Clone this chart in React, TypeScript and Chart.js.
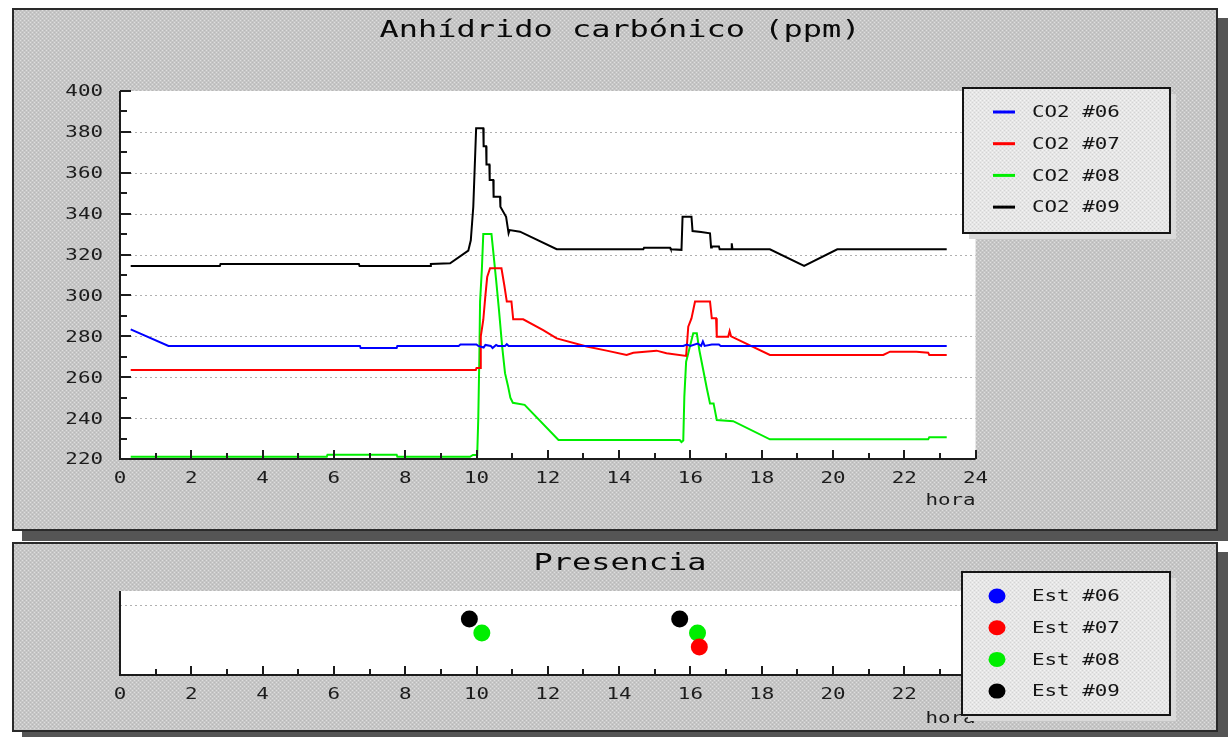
import React, { useEffect, useRef } from 'react';
import { Chart, registerables } from 'chart.js';

Chart.register(...registerables);

// ---------- data ----------
const HOUR_MIN = 0;
const HOUR_MAX = 24;
const HOUR_STEP = 2;
const CO2_MIN = 220;
const CO2_MAX = 400;
const CO2_STEP = 20;
const CO2_GRID = [240, 260, 280, 300, 320, 340, 360, 380];
const CO2_MAJOR = [240, 260, 280, 300, 320, 340, 360, 380, 400];
const CO2_MINOR = [230, 250, 270, 290, 310, 330, 350, 370, 390];
const HOUR_MAJOR = [0, 2, 4, 6, 8, 10, 12, 14, 16, 18, 20, 22, 24];
const HOUR_MINOR = [1, 3, 5, 7, 9, 11, 13, 15, 17, 19, 21, 23];

const CO2_LABELS = ['CO2 #06', 'CO2 #07', 'CO2 #08', 'CO2 #09'];

const CO2_06_HOURS = [0.3, 1.36, 6.73, 6.75, 7.76, 7.78, 9.5, 9.55, 10.0, 10.05, 10.2, 10.25, 10.4, 10.45, 10.55, 10.6, 10.8, 10.85, 10.9, 15.8, 15.9, 16.0, 16.2, 16.3, 16.35, 16.4, 16.6, 16.8, 16.85, 23.19];
const CO2_06_VALUES = [283.4, 275.3, 275.3, 274.3, 274.3, 275.3, 275.3, 276, 276, 275.3, 274.5, 275.8, 275.3, 274.3, 275.8, 275.3, 275.3, 276.2, 275.3, 275.3, 276, 275.3, 276.5, 275.3, 277.5, 275.3, 276, 276, 275.3, 275.3];

const CO2_07_HOURS = [0.3, 9.98, 10.0, 10.1, 10.12, 10.19, 10.25, 10.3, 10.38, 10.7, 10.78, 10.85, 10.98, 11.03, 11.31, 11.87, 12.25, 13.09, 13.65, 14.21, 14.4, 15.05, 15.33, 15.88, 15.94, 16.03, 16.13, 16.55, 16.6, 16.72, 16.74, 17.06, 17.1, 17.14, 18.23, 21.41, 21.6, 22.34, 22.67, 22.7, 23.19];
const CO2_07_VALUES = [263.5, 263.5, 264.5, 264.5, 280, 288, 300, 309, 313.3, 313.3, 305, 297, 297, 288.3, 288.3, 283, 279, 275, 273, 270.9, 272, 273, 271.7, 270.4, 284.7, 288.8, 297, 297, 288.8, 288.8, 279.8, 279.8, 282.5, 280, 270.9, 270.9, 272.5, 272.5, 272, 270.9, 270.9];

const CO2_08_HOURS = [0.3, 5.8, 5.82, 7.76, 7.78, 9.82, 9.9, 10.02, 10.05, 10.08, 10.1, 10.15, 10.19, 10.42, 10.47, 10.55, 10.63, 10.72, 10.8, 10.88, 10.95, 11.02, 11.35, 12.3, 15.7, 15.75, 15.8, 15.83, 15.88, 15.94, 16.0, 16.08, 16.18, 16.25, 16.36, 16.46, 16.55, 16.65, 16.74, 17.2, 18.23, 22.67, 22.7, 23.19];
const CO2_08_VALUES = [221.1, 221.1, 222.1, 222.1, 221.1, 221.1, 222, 222, 240, 270, 297, 312.5, 330, 330, 321.4, 307.6, 292.9, 275, 262, 256, 250, 247.5, 246.5, 229.3, 229.3, 228.3, 229, 250.5, 267.6, 271.7, 276, 281.5, 281.5, 273.3, 263.5, 254.6, 247.2, 247.2, 239.1, 238.5, 229.6, 229.6, 230.6, 230.6];

const CO2_09_HOURS = [0.3, 2.8, 2.82, 6.7, 6.72, 8.7, 8.72, 9.26, 9.77, 9.84, 9.91, 9.99, 10.19, 10.2, 10.27, 10.28, 10.36, 10.37, 10.47, 10.48, 10.66, 10.67, 10.83, 10.9, 10.93, 11.22, 12.25, 14.68, 14.7, 15.43, 15.45, 15.75, 15.78, 16.03, 16.06, 16.3, 16.55, 16.58, 16.6, 16.8, 16.82, 17.15, 17.16, 17.18, 18.23, 19.19, 20.12, 23.19];
const CO2_09_VALUES = [314.4, 314.4, 315.4, 315.4, 314.4, 314.4, 315.4, 315.7, 321.9, 327, 343.4, 381.8, 381.8, 373, 373, 364, 364, 356.5, 356.5, 348.3, 348.3, 343.4, 338.5, 330.4, 332, 331.2, 322.6, 322.6, 323.3, 323.3, 322.6, 322.3, 338.5, 338.5, 331.5, 331, 330.4, 323.5, 324, 324, 322.6, 322.6, 325.5, 322.6, 322.6, 314.4, 322.6, 322.6];

const PRES_LABELS = ['Est #06', 'Est #07', 'Est #08', 'Est #09'];
const PRES_06_HOURS: number[] = [];
const PRES_06_LEVELS: number[] = [];
const PRES_07_HOURS = [16.25];
const PRES_07_LEVELS = [2];
const PRES_08_HOURS = [10.15, 16.2];
const PRES_08_LEVELS = [3, 3];
const PRES_09_HOURS = [9.8, 15.7];
const PRES_09_LEVELS = [4, 4];
const PRES_MIN = 0;
const PRES_MAX = 6;
const PRES_GRID = [5];

const SERIES_COLORS = ['#0000ff', '#ff0000', '#00ee00', '#000000'];

// ---------- helpers ----------
const FONT = '"DejaVu Sans Mono", "Liberation Mono", monospace';
const TEXT_STRETCH = 1.39;
const TEXT_DY = 1.5;
const zip = (xs: number[], ys: number[]) => xs.map((x, i) => ({ x, y: ys[i] }));

let panelPat: CanvasPattern | null = null;
let legendPat: CanvasPattern | null = null;
function makePattern(ctx: CanvasRenderingContext2D, base: string, dot: string, dark: string) {
  const c = document.createElement('canvas');
  c.width = 4;
  c.height = 4;
  const g = c.getContext('2d')!;
  g.fillStyle = base;
  g.fillRect(0, 0, 4, 4);
  g.fillStyle = dot;
  g.fillRect(0, 0, 1, 1);
  g.fillRect(2, 2, 1, 1);
  g.fillStyle = dark;
  g.fillRect(2, 0, 1, 1);
  g.fillRect(0, 2, 1, 1);
  return ctx.createPattern(c, 'repeat')!;
}

// widen glyphs horizontally around the text anchor (the reference uses a wide pixel font)
function stretchText(ctx: any) {
  if (ctx.__stretched) return;
  const orig = CanvasRenderingContext2D.prototype.fillText;
  ctx.fillText = function (text: string, x: number, y: number, maxWidth?: number) {
    this.save();
    this.translate(x, y + TEXT_DY);
    this.scale(TEXT_STRETCH, 1);
    if (typeof maxWidth === 'number' && isFinite(maxWidth)) orig.call(this, text, 0, 0, maxWidth / TEXT_STRETCH);
    else orig.call(this, text, 0, 0);
    this.restore();
  };
  ctx.__stretched = true;
}

const axesPlugin = {
  id: 'manualAxes',
  beforeDraw(chart: any) {
    const ctx = chart.ctx as CanvasRenderingContext2D;
    stretchText(ctx);
    if (!panelPat) panelPat = makePattern(ctx, '#c6c6c6', '#dedede', '#b8b8b8');
    ctx.save();
    ctx.fillStyle = panelPat;
    ctx.fillRect(0, 0, chart.width, chart.height);
    const a = chart.chartArea;
    ctx.fillStyle = '#ffffff';
    ctx.fillRect(a.left, a.top, a.right - a.left, a.bottom - a.top);
    ctx.restore();
  },
  beforeDatasetsDraw(chart: any, _args: any, opts: any) {
    const ctx = chart.ctx as CanvasRenderingContext2D;
    const a = chart.chartArea;
    const y = chart.scales.y;
    ctx.save();
    ctx.strokeStyle = '#b0b0b0';
    ctx.lineWidth = 1;
    ctx.setLineDash([2, 3]);
    for (const v of opts.grid || []) {
      const py = Math.round(y.getPixelForValue(v)) + 0.5;
      ctx.beginPath();
      ctx.moveTo(a.left, py);
      ctx.lineTo(a.right, py);
      ctx.stroke();
    }
    ctx.restore();
  },
  afterDatasetsDraw(chart: any, _args: any, opts: any) {
    const ctx = chart.ctx as CanvasRenderingContext2D;
    const a = chart.chartArea;
    const xs = chart.scales.x;
    const ys = chart.scales.y;
    ctx.save();
    ctx.strokeStyle = '#1c1c1c';
    ctx.lineWidth = 2;
    ctx.beginPath();
    ctx.moveTo(a.left, a.top);
    ctx.lineTo(a.left, a.bottom);
    ctx.lineTo(a.right, a.bottom);
    ctx.stroke();
    const tick = (x1: number, y1: number, x2: number, y2: number) => {
      ctx.beginPath();
      ctx.moveTo(x1, y1);
      ctx.lineTo(x2, y2);
      ctx.stroke();
    };
    for (const h of opts.xMajor || []) {
      const px = Math.round(xs.getPixelForValue(h));
      tick(px, a.bottom, px, a.bottom - 9);
    }
    for (const h of opts.xMinor || []) {
      const px = Math.round(xs.getPixelForValue(h));
      tick(px, a.bottom, px, a.bottom - 6);
    }
    for (const v of opts.yMajor || []) {
      const py = Math.round(ys.getPixelForValue(v));
      tick(a.left, py, a.left + 11, py);
    }
    for (const v of opts.yMinor || []) {
      const py = Math.round(ys.getPixelForValue(v));
      tick(a.left, py, a.left + 7, py);
    }
    ctx.restore();
  },
};

const boxLegendPlugin = {
  id: 'boxLegend',
  afterDraw(chart: any, _args: any, opts: any) {
    const ctx = chart.ctx as CanvasRenderingContext2D;
    if (!legendPat) legendPat = makePattern(ctx, '#e6e6e6', '#f4f4f4', '#d4d4d4');
    const { left, top, width, height, rowStart, rowGap, markerX, textX, marker } = opts;
    ctx.save();
    ctx.fillStyle = '#d9d9d9';
    ctx.fillRect(left + 6, top + 6, width, height);
    ctx.fillStyle = legendPat;
    ctx.fillRect(left, top, width, height);
    ctx.lineWidth = 2;
    ctx.strokeStyle = '#151515';
    ctx.strokeRect(left, top, width, height);
    chart.data.datasets.forEach((ds: any, i: number) => {
      const y = rowStart + i * rowGap;
      if (marker === 'line') {
        ctx.strokeStyle = ds.borderColor;
        ctx.lineWidth = 3;
        ctx.beginPath();
        ctx.moveTo(markerX - 11, y);
        ctx.lineTo(markerX + 11, y);
        ctx.stroke();
      } else {
        ctx.fillStyle = ds.backgroundColor;
        ctx.beginPath();
        ctx.ellipse(markerX, y, 8.5, 7.5, 0, 0, Math.PI * 2);
        ctx.fill();
      }
      ctx.fillStyle = '#151515';
      ctx.font = `15px ${FONT}`;
      ctx.textAlign = 'left';
      ctx.textBaseline = 'middle';
      ctx.fillText(ds.label, textX, y);
    });
    ctx.restore();
  },
};

const tickFont = { family: FONT, size: 15 };
const titleFont = { family: FONT, size: 23, weight: 'normal' };
const LEFT_PAD = 10;

function co2Config(): any {
  const series = [
    [CO2_06_HOURS, CO2_06_VALUES],
    [CO2_07_HOURS, CO2_07_VALUES],
    [CO2_08_HOURS, CO2_08_VALUES],
    [CO2_09_HOURS, CO2_09_VALUES],
  ];
  return {
    type: 'line',
    data: {
      datasets: series.map(([h, v], i) => ({
        label: CO2_LABELS[i],
        data: zip(h, v),
        borderColor: SERIES_COLORS[i],
        backgroundColor: SERIES_COLORS[i],
        borderWidth: 2,
        pointRadius: 0,
        tension: 0,
        fill: false,
      })),
    },
    options: {
      responsive: false,
      animation: false,
      events: [],
      layout: { padding: { left: LEFT_PAD, right: 0, top: 0, bottom: 0 } },
      plugins: {
        legend: { display: false },
        tooltip: { enabled: false },
        title: {
          display: true,
          text: 'Anhídrido carbónico (ppm)',
          color: '#0a0a0a',
          font: titleFont,
          padding: { top: 5.5, bottom: 47.9 },
        },
        manualAxes: { grid: CO2_GRID, xMajor: HOUR_MAJOR, xMinor: HOUR_MINOR, yMajor: CO2_MAJOR, yMinor: CO2_MINOR },
        boxLegend: { left: 949, top: 78, width: 207, height: 145, rowStart: 102, rowGap: 31.7, markerX: 990, textX: 1018, marker: 'line' },
      },
      scales: {
        x: {
          type: 'linear',
          min: HOUR_MIN,
          max: HOUR_MAX,
          afterFit: (s: any) => { s.height = 70; },
          grid: { display: false },
          border: { display: false },
          ticks: { stepSize: HOUR_STEP, padding: 2, color: '#1c1c1c', font: tickFont, maxRotation: 0, autoSkip: false },
          title: { display: true, text: 'hora', align: 'end', color: '#1c1c1c', font: tickFont, padding: { top: 0, bottom: 20 } },
        },
        y: {
          min: CO2_MIN,
          max: CO2_MAX,
          afterFit: (s: any) => { s.width = 106 - LEFT_PAD; },
          grid: { display: false },
          border: { display: false },
          ticks: { stepSize: CO2_STEP, padding: 9, color: '#1c1c1c', font: tickFont },
        },
        yRight: {
          type: 'linear',
          position: 'right',
          afterFit: (s: any) => { s.width = 240.4; },
          grid: { display: false },
          border: { display: false },
          ticks: { display: false },
        },
      },
    },
    plugins: [axesPlugin, boxLegendPlugin],
  };
}

function presConfig(): any {
  const series = [
    [PRES_06_HOURS, PRES_06_LEVELS],
    [PRES_07_HOURS, PRES_07_LEVELS],
    [PRES_08_HOURS, PRES_08_LEVELS],
    [PRES_09_HOURS, PRES_09_LEVELS],
  ];
  return {
    type: 'scatter',
    data: {
      datasets: series.map(([h, v], i) => ({
        label: PRES_LABELS[i],
        data: zip(h, v),
        borderColor: SERIES_COLORS[i],
        backgroundColor: SERIES_COLORS[i],
        borderWidth: 0,
        pointRadius: 8.5,
        pointStyle: 'circle',
      })),
    },
    options: {
      responsive: false,
      animation: false,
      events: [],
      layout: { padding: { left: LEFT_PAD, right: 0, top: 0, bottom: 0 } },
      plugins: {
        legend: { display: false },
        tooltip: { enabled: false },
        title: {
          display: true,
          text: 'Presencia',
          color: '#0a0a0a',
          font: titleFont,
          padding: { top: 4.5, bottom: 14.9 },
        },
        manualAxes: { grid: PRES_GRID, xMajor: HOUR_MAJOR, xMinor: HOUR_MINOR, yMajor: [], yMinor: [] },
        boxLegend: { left: 948, top: 28, width: 208, height: 143, rowStart: 52, rowGap: 31.7, markerX: 983, textX: 1018, marker: 'point' },
      },
      scales: {
        x: {
          type: 'linear',
          min: HOUR_MIN,
          max: HOUR_MAX,
          afterFit: (s: any) => { s.height = 55; },
          grid: { display: false },
          border: { display: false },
          ticks: { stepSize: HOUR_STEP, padding: 2, color: '#1c1c1c', font: tickFont, maxRotation: 0, autoSkip: false },
          title: { display: true, text: 'hora', align: 'end', color: '#1c1c1c', font: tickFont, padding: { top: 0, bottom: 3 } },
        },
        y: {
          min: PRES_MIN,
          max: PRES_MAX,
          afterFit: (s: any) => { s.width = 106 - LEFT_PAD; },
          grid: { display: false },
          border: { display: false },
          ticks: { display: false },
        },
        yRight: {
          type: 'linear',
          position: 'right',
          afterFit: (s: any) => { s.width = 240.4; },
          grid: { display: false },
          border: { display: false },
          ticks: { display: false },
        },
      },
    },
    plugins: [axesPlugin, boxLegendPlugin],
  };
}

function Panel({ left, top, w, h, config }: { left: number; top: number; w: number; h: number; config: () => any }) {
  const ref = useRef<HTMLCanvasElement>(null);
  useEffect(() => {
    const chart = new Chart(ref.current!, config());
    return () => chart.destroy();
  }, []);
  return (
    <div
      style={{
        position: 'absolute',
        left,
        top,
        width: w,
        height: h,
        border: '2px solid #2a2a2a',
        boxShadow: '10px 10px 0 #555555',
        background: '#c6c6c6',
      }}
    >
      <canvas ref={ref} width={w} height={h} style={{ display: 'block', width: w, height: h }} />
    </div>
  );
}

export default function App() {
  useEffect(() => {
    document.body.style.margin = '0';
    document.body.style.background = '#ffffff';
  }, []);
  return (
    <div style={{ position: 'relative', width: 1231, height: 737, overflow: 'hidden', background: '#fff' }}>
      <Panel left={12} top={8} w={1202} h={519} config={co2Config} />
      <Panel left={12} top={542} w={1202} h={186} config={presConfig} />
    </div>
  );
}
